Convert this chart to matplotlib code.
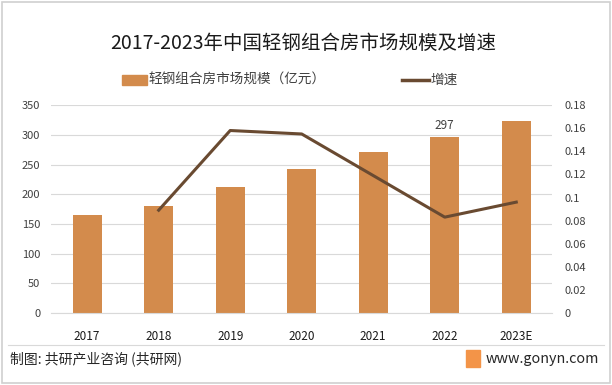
import matplotlib.pyplot as plt
import numpy as np
from matplotlib.patches import Rectangle
from matplotlib.lines import Line2D

plt.rcParams['font.family'] = ['Noto Sans CJK SC', 'DejaVu Sans']

years = ['2017', '2018', '2019', '2020', '2021', '2022', '2023E']
scale = [165, 180, 212, 242, 271, 297, 323]
growth_years = ['2018', '2019', '2020', '2021', '2022', '2023E']
growth = [0.089, 0.158, 0.155, 0.119, 0.083, 0.096]

bar_color = '#D38B4C'
line_color = '#694A31'
text_color = '#404040'

fig = plt.figure(figsize=(6.12, 3.85), dpi=100)
ax = fig.add_axes([0.084, 0.187, 0.818, 0.54])
ax2 = ax.twinx()

index = np.arange(len(years))
ax.bar(index, scale, 0.41, color=bar_color, zorder=2)
ax.set_ylim(0, 350)
ax.set_yticks(np.arange(0, 351, 50))
ax.set_xlim(-0.5, len(years) - 0.5)
ax.set_xticks(index)
ax.set_xticklabels(years)
ax.grid(axis='y', color='#D9D9D9', linewidth=0.8, zorder=0)
ax.set_axisbelow(True)
ax.text(5, 297 + 8, '297', ha='center', va='bottom', fontsize=8.5, color=text_color)

gidx = [years.index(y) for y in growth_years]
ax2.plot(gidx, growth, color=line_color, linewidth=2.2, zorder=3)
ax2.set_ylim(0, 0.18)
ax2.set_yticks(np.arange(0, 0.181, 0.02))
ax2.set_yticklabels(['0', '0.02', '0.04', '0.06', '0.08', '0.1', '0.12',
                     '0.14', '0.16', '0.18'])

for a in (ax, ax2):
    for s in a.spines.values():
        s.set_visible(False)
    a.tick_params(length=0, labelsize=8, colors=text_color)
ax.tick_params(axis='y', pad=8)
ax.tick_params(axis='x', pad=12, labelsize=8.5, labelcolor='#1a1a1a')
ax2.tick_params(axis='y', pad=9)
ax.spines['bottom'].set_visible(True)
ax.spines['bottom'].set_color('#D9D9D9')

fig.text(0.495, 0.888, '2017-2023年中国轻钢组合房市场规模及增速', ha='center',
         va='center', fontsize=14, color='#1a1a1a')

# legend
ly = 1 - 80 / 385
fig.add_artist(Rectangle((122 / 612, ly - 0.012), 25 / 612, 0.024,
                         color=bar_color, transform=fig.transFigure))
fig.text(148 / 612, ly, '轻钢组合房市场规模（亿元）', ha='left', va='center',
         fontsize=9.8, color=text_color)
fig.add_artist(Line2D([402 / 612, 429 / 612], [ly, ly], color=line_color,
                      linewidth=2.5, transform=fig.transFigure))
fig.text(430 / 612, ly, '增速', ha='left', va='center', fontsize=9.8,
         color=text_color)

# footer
fig.add_artist(Line2D([0.013, 0.987], [0.104, 0.104], color='#D9D9D9',
                      linewidth=0.8, transform=fig.transFigure))
fig.text(0.017, 0.068, '制图: 共研产业咨询 (共研网)', ha='left', va='center',
         fontsize=10, color='#262626')
fig.text(0.978, 0.068, 'www.gonyn.com', ha='right', va='center',
         fontsize=10.3, color='#262626')
fig.add_artist(Rectangle((466 / 612, 0.048), 14 / 612, 0.042, color='#F39448',
                         transform=fig.transFigure))
fig.add_artist(Rectangle((0.004, 0.006), 0.992, 0.988, fill=False,
                         edgecolor='#D0D0D0', linewidth=1.2,
                         transform=fig.transFigure))

fig.savefig('out.png', dpi=100)
